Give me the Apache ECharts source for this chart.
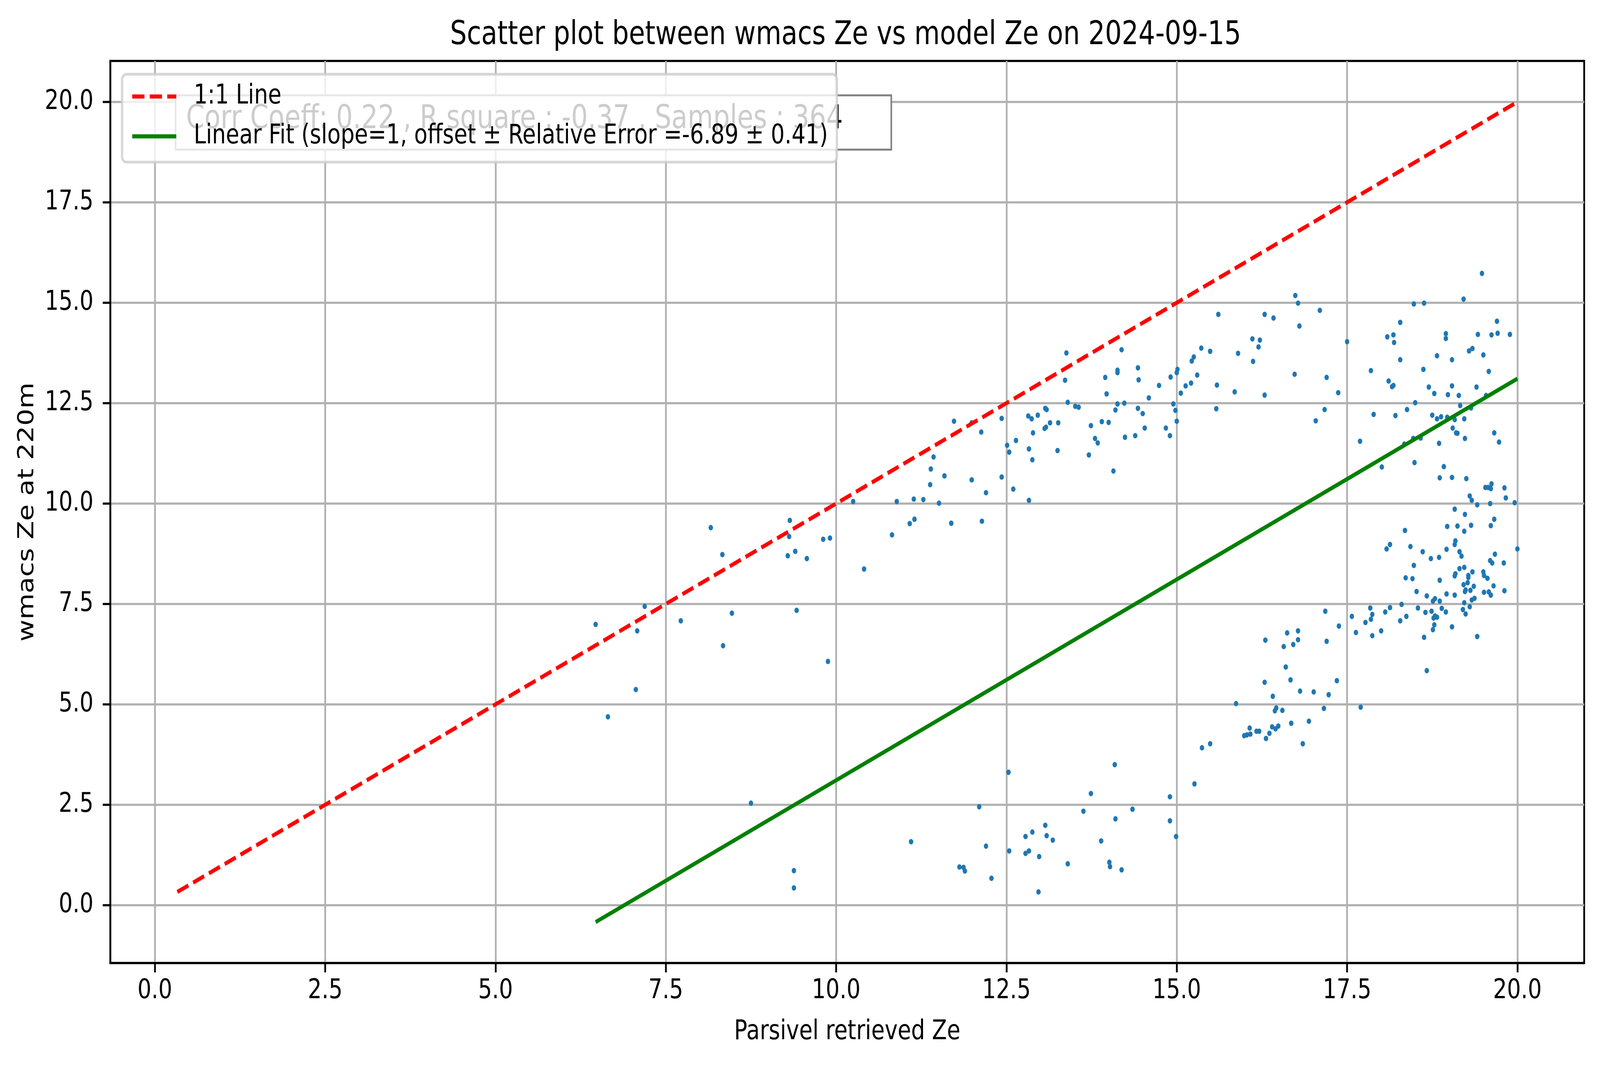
<!DOCTYPE html>
<html>
<head>
<meta charset="utf-8">
<title>wmacs Ze vs model Ze</title>
<script src="https://cdn.jsdelivr.net/npm/echarts@6/dist/echarts.min.js"></script>
<style>
  html, body { margin: 0; padding: 0; background: #fff; overflow: hidden; }
  #wrap { width: 100vw; height: 100vh; overflow: hidden; position: relative; }
  #chart { width: 5048px; height: 2726px; transform-origin: 0 0; }
</style>
</head>
<body>
<div id="wrap"><div id="chart"></div></div>
<script>
// Parsivel retrieved Ze (x) and wmacs Ze at 220m (y)
var parsivelZe = [
  6.47, 6.65, 7.06, 7.08, 7.19, 7.72, 8.16, 8.33, 8.34, 8.47, 8.75, 9.32, 9.31, 9.29, 9.40, 9.42, 9.38, 9.38, 9.57, 9.81,
  9.91, 9.88, 10.25, 10.41, 10.82, 10.89, 11.08, 11.14, 11.15, 11.28, 11.38, 11.10,
  11.51, 11.69, 11.39, 11.43, 11.59, 11.73, 11.99, 11.99, 12.13, 12.20, 12.14, 12.43, 12.43, 12.51, 12.54, 12.60, 12.64, 12.83, 12.82, 12.87,
  12.96, 12.89, 12.83, 12.88, 13.07, 13.09, 13.06, 13.08, 13.14, 13.26, 13.25, 13.38, 13.36, 13.40, 13.51, 13.56, 13.71, 13.74, 13.80, 13.84,
  13.90, 13.95, 13.97, 14.00, 14.07, 14.10, 14.13, 14.13, 14.13, 14.19, 14.23, 14.24, 14.39, 14.43, 14.43, 14.44, 14.50, 14.53, 14.59, 14.74,
  14.84, 14.90, 14.91, 14.95, 14.98, 15.00, 15.00, 15.01, 15.06, 15.13,
  12.53, 14.09, 13.74, 14.90, 12.10, 13.63, 14.35, 14.10, 14.90, 13.07, 12.88, 12.78, 13.09, 13.18, 13.89, 14.99, 12.20, 12.54, 12.78, 12.83,
  12.98, 13.40, 14.01, 14.02, 14.19, 11.81, 11.87, 11.89, 12.28, 12.97,
  15.21, 15.22, 15.25, 15.30, 15.36, 15.49, 15.61, 15.59, 15.58, 15.85, 15.90, 16.11, 16.12, 16.20, 16.22, 16.29, 16.42, 16.29, 16.73, 16.74,
  16.78, 16.80, 17.04, 17.10, 17.17, 17.20, 17.37, 17.50, 17.69,
  15.26, 15.37, 15.49, 15.87, 15.99, 16.03, 16.08, 16.07, 16.17, 16.21, 16.31, 16.36, 16.40, 16.45, 16.49, 16.44, 16.46, 16.55, 16.41, 16.29,
  16.30, 16.57, 16.62, 16.60, 16.67, 16.71, 16.78, 16.78, 16.68, 16.81, 16.85, 16.94, 17.01, 17.16, 17.18, 17.20, 17.23, 17.35, 17.38, 17.57,
  17.63, 17.70,
  19.48, 19.21, 18.48, 18.63, 18.28, 18.09, 18.18, 18.19, 18.95, 18.95, 19.42, 19.62, 19.71, 19.70, 19.89, 19.29, 19.34, 19.50, 18.82, 19.04,
  18.28, 18.62, 17.85, 19.58, 18.11, 18.18, 18.16, 18.70, 19.04, 19.40, 18.78, 18.98, 19.14, 19.54, 18.50, 19.16, 19.32, 18.38, 17.89, 18.21,
  18.75, 18.82, 18.88, 18.97, 19.08, 19.22, 19.05, 19.10, 19.12, 19.66, 19.23, 19.73, 18.34, 18.47, 18.58, 18.85, 18.49, 18.01, 18.92, 18.86,
  19.04, 19.25, 19.62,
  19.53, 19.57, 19.61, 19.81, 19.30, 19.33, 19.41, 19.60, 19.83, 19.96, 19.08, 19.23, 19.66, 18.97, 19.12, 19.32, 19.61, 19.22, 18.35, 18.13,
  18.08, 18.43, 19.09, 19.08, 18.96, 20.00, 18.61, 19.15, 19.18, 18.73, 18.85, 19.67, 19.60, 19.63, 19.80, 18.48, 19.15, 19.22, 19.34, 19.50,
  19.51, 19.56, 19.09, 19.08, 19.28, 19.28, 18.36, 18.46, 18.86, 19.27, 19.21, 19.36, 19.65, 19.24, 19.23, 19.31, 18.52, 19.51, 19.58, 19.61,
  19.81, 18.67, 18.79, 18.76, 18.86, 18.96, 19.08, 19.33, 19.37, 19.22, 18.30, 17.84, 18.13, 18.54, 17.87, 18.06, 17.85, 17.77, 18.37, 18.28,
  18.65, 18.74, 18.89, 18.95, 19.20, 19.30, 19.24, 18.77, 18.79, 18.82, 18.78, 18.76, 19.04, 17.87, 18.00, 18.63, 19.41, 18.67
];
var wmacsZe = [
  6.99, 4.69, 5.37, 6.83, 7.44, 7.08, 9.40, 8.73, 6.46, 7.27, 2.54, 9.58, 9.18, 8.70, 8.81, 7.34, 0.86, 0.43, 8.63, 9.11,
  9.14, 6.07, 10.05, 8.37, 9.22, 10.05, 9.50, 10.11, 9.61, 10.10, 10.47, 1.58,
  10.01, 9.51, 10.86, 11.16, 10.69, 12.05, 12.01, 10.59, 11.78, 10.27, 9.56, 12.12, 10.66, 11.45, 11.28, 10.36, 11.57, 10.08, 12.18, 12.11,
  12.20, 11.76, 11.36, 11.09, 12.37, 12.34, 11.87, 11.90, 12.01, 12.01, 11.32, 13.75, 13.07, 12.52, 12.42, 12.40, 11.21, 11.94, 11.62, 11.51,
  12.04, 13.14, 12.73, 12.02, 10.81, 12.33, 12.48, 13.32, 13.26, 13.83, 12.50, 11.65, 11.69, 12.37, 13.38, 13.08, 12.24, 11.88, 12.63, 12.94,
  11.88, 11.69, 13.15, 12.48, 12.32, 12.05, 13.26, 13.34, 12.75, 12.93,
  3.31, 3.50, 2.78, 2.70, 2.45, 2.34, 2.39, 2.15, 2.10, 1.99, 1.82, 1.71, 1.73, 1.62, 1.60, 1.71, 1.47, 1.35, 1.29, 1.35,
  1.21, 1.03, 1.07, 0.96, 0.88, 0.95, 0.94, 0.85, 0.67, 0.33,
  13.00, 13.55, 13.65, 13.20, 13.87, 13.79, 14.71, 12.95, 12.36, 12.78, 13.74, 14.10, 13.54, 13.90, 14.07, 14.71, 14.62, 12.70, 13.22, 15.18,
  14.99, 14.42, 12.06, 14.81, 12.34, 13.14, 12.76, 14.03, 11.55,
  3.02, 3.92, 4.02, 5.02, 4.22, 4.24, 4.26, 4.41, 4.33, 4.33, 4.15, 4.28, 4.44, 4.39, 4.46, 4.84, 4.91, 4.85, 5.20, 5.55,
  6.60, 6.44, 6.78, 5.93, 5.61, 6.49, 6.83, 6.61, 4.53, 5.33, 4.02, 4.58, 5.31, 4.90, 7.32, 6.57, 5.24, 5.59, 6.95, 7.19,
  6.79, 4.93,
  15.73, 15.09, 14.97, 14.99, 14.51, 14.15, 14.20, 14.01, 14.23, 14.11, 14.21, 14.20, 14.24, 14.54, 14.21, 13.80, 13.86, 13.70, 13.68, 13.58,
  13.58, 13.34, 13.31, 13.29, 13.05, 12.94, 12.91, 12.90, 12.93, 12.90, 12.74, 12.71, 12.69, 12.69, 12.51, 12.44, 12.38, 12.34, 12.22, 12.19,
  12.20, 12.11, 12.16, 12.15, 12.09, 12.11, 11.88, 11.76, 11.75, 11.76, 11.62, 11.53, 11.48, 11.62, 11.63, 11.50, 11.02, 10.91, 10.92, 10.64,
  10.65, 10.62, 10.49,
  10.40, 10.40, 10.37, 10.39, 10.19, 10.08, 9.97, 10.00, 10.14, 10.02, 9.86, 9.73, 9.61, 9.43, 9.44, 9.46, 9.45, 9.31, 9.33, 8.98,
  8.87, 8.93, 9.07, 8.98, 8.86, 8.87, 8.80, 8.80, 8.69, 8.63, 8.66, 8.74, 8.58, 8.52, 8.52, 8.46, 8.38, 8.41, 8.30, 8.30,
  8.21, 8.14, 8.25, 8.20, 8.21, 8.16, 8.15, 8.13, 8.09, 8.03, 7.98, 7.94, 7.95, 7.85, 7.81, 7.84, 7.81, 7.79, 7.80, 7.72,
  7.83, 7.70, 7.63, 7.57, 7.57, 7.75, 7.72, 7.60, 7.64, 7.53, 7.49, 7.40, 7.41, 7.40, 7.24, 7.30, 7.12, 7.04, 7.19, 7.08,
  7.29, 7.32, 7.39, 7.30, 7.36, 7.43, 7.25, 7.15, 7.20, 7.17, 6.98, 6.86, 6.93, 6.71, 6.83, 6.67, 6.69, 5.84
];

// end points of the two reference lines
var oneToOneLine = [[0.33, 0.33], [20.0, 20.0]];
var linearFitLine = [[6.47, -0.42], [20.0, 13.11]];

var xTicks = [0, 2.5, 5, 7.5, 10, 12.5, 15, 17.5, 20];
var yTicks = [0, 2.5, 5, 7.5, 10, 12.5, 15, 17.5, 20];

var statsText = 'Corr Coeff: 0.22 , R square : -0.37 , Samples : 364';
var fitName = 'Linear Fit (slope=1, offset \u00b1 Relative Error =-6.89 \u00b1 0.41)';

var points = parsivelZe.map(function (x, i) { return [x, wmacsZe[i]]; });

// the chart is laid out at 5048 x 2726 and stretched onto the real viewport
var el = document.getElementById('chart');
var sx = window.innerWidth / 5048, sy = window.innerHeight / 2726;
el.style.transform = 'scale(' + sx + ',' + sy + ')';

var FONT = 'DejaVu Sans';
var chart = echarts.init(el);

var option = {
  animation: false,
  backgroundColor: '#fff',
  title: {
    text: 'Scatter plot between wmacs Ze vs model Ze on 2024-09-15',
    left: 1420,
    top: 50,
    padding: 0,
    textStyle: { fontFamily: FONT, fontSize: 83, fontWeight: 'normal', color: '#000' }
  },
  grid: {
    left: 348, top: 156, width: 4650, height: 2309,
    show: true, borderColor: '#000', borderWidth: 5.5, backgroundColor: 'transparent'
  },
  legend: {
    orient: 'vertical',
    left: 385, top: 190,
    padding: [17, 28, 26, 27],
    itemWidth: 139, itemHeight: 20, itemGap: 22,
    backgroundColor: 'rgba(255,255,255,0.8)',
    borderColor: 'rgba(204,204,204,0.8)', borderWidth: 7, borderRadius: 14,
    itemStyle: { opacity: 0 },
    lineStyle: { width: 10.4 },
    textStyle: { fontFamily: FONT, fontSize: 69, color: '#000', lineHeight: 80, padding: [0, 0, 0, 50] },
    z: 10,
    data: ['1:1 Line', fitName]
  },
  xAxis: {
    type: 'value', min: -0.654, max: 20.98,
    name: 'Parsivel retrieved Ze', nameLocation: 'middle', nameGap: 143,
    nameTextStyle: { fontFamily: FONT, fontSize: 69, color: '#000' },
    axisLine: { show: true, onZero: false, lineStyle: { color: '#000', width: 5.5 } },
    axisTick: { show: true, length: 24, customValues: xTicks, lineStyle: { color: '#000', width: 5.5 } },
    axisLabel: {
      customValues: xTicks, margin: 38, fontFamily: FONT, fontSize: 69, color: '#000',
      formatter: function (v) { return v.toFixed(1); }
    },
    splitLine: { show: true, lineStyle: { color: '#b0b0b0', width: 5.5 } }
  },
  yAxis: {
    type: 'value', min: -1.44, max: 21.02,
    name: 'wmacs Ze at 220m', nameLocation: 'middle', nameGap: 226,
    nameTextStyle: { fontFamily: FONT, fontSize: 69, color: '#000' },
    axisLine: { show: true, onZero: false, lineStyle: { color: '#000', width: 5.5 } },
    axisTick: { show: true, length: 24, customValues: yTicks, lineStyle: { color: '#000', width: 5.5 } },
    axisLabel: {
      customValues: yTicks, margin: 53, fontFamily: FONT, fontSize: 69, color: '#000',
      formatter: function (v) { return v.toFixed(1); }
    },
    splitLine: { show: true, lineStyle: { color: '#b0b0b0', width: 5.5 } }
  },
  graphic: [{
    type: 'group',
    z: 5,
    children: [{
      type: 'rect',
      z: 5,
      shape: { x: 554, y: 244, width: 2258, height: 139 },
      style: { fill: '#fff', stroke: '#808080', lineWidth: 5 }
    }, {
      type: 'text',
      z: 6,
      x: 587, y: 306,
      style: { text: statsText, fill: '#000', font: '83px "DejaVu Sans"', verticalAlign: 'middle' }
    }]
  }],
  series: [{
    name: 'scatter',
    type: 'scatter',
    data: points,
    symbolSize: 14,
    itemStyle: { color: '#1f77b4', opacity: 1 },
    z: 2
  }, {
    name: '1:1 Line',
    type: 'line',
    data: oneToOneLine,
    symbol: 'none',
    lineStyle: { color: '#ff0000', width: 10.4, type: [38.5, 16.7] },
    z: 3
  }, {
    name: fitName,
    type: 'line',
    data: linearFitLine,
    symbol: 'none',
    lineStyle: { color: '#008000', width: 10.4 },
    z: 3
  }]
};

chart.setOption(option);
</script>
</body>
</html>
